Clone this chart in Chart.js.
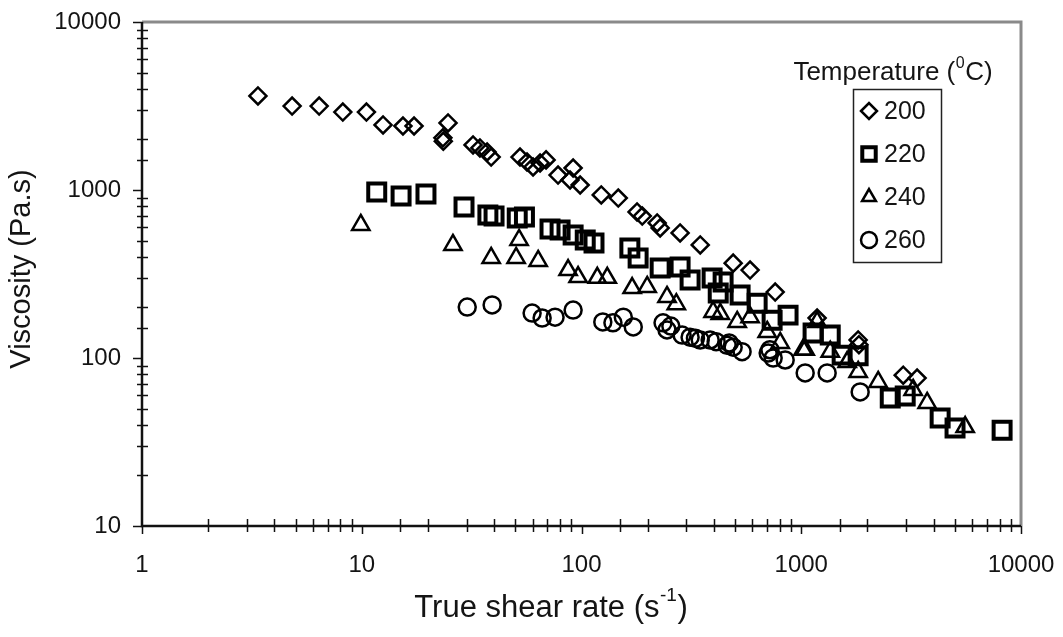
<!DOCTYPE html>
<html>
<head>
<meta charset="utf-8">
<script src="https://cdn.jsdelivr.net/npm/chart.js@4.4.1/dist/chart.umd.min.js"></script>
<style>
  html, body { margin: 0; padding: 0; background: #fff; }
</style>
</head>
<body>
<canvas id="chart" width="1063" height="637"></canvas>
<script>
// valeurs (taux de cisaillement s-1, viscosité Pa.s)
const rate200 = [3.37, 4.82, 6.4, 8.2, 10.5, 12.5, 15.4, 17.3, 24.7, 23.4, 23.5, 32.1, 34.5, 37.2, 38.8, 52.5, 56.5, 60.2, 64.8, 69, 78.2, 91.6, 88.7, 98.6, 123, 147, 179, 189, 221, 228, 281, 347, 490, 585, 761, 1181, 1815, 1830, 2911, 3367];
const visc200 = [3630, 3160, 3160, 2911, 2911, 2438, 2404, 2404, 2506, 2043, 1950, 1854, 1780, 1684, 1570, 1570, 1468, 1371, 1449, 1511, 1228, 1352, 1148, 1071, 934, 896, 740, 700, 637, 595, 555, 471, 367, 334, 247, 173, 128, 120, 79, 76];

const rate220 = [11.7, 15.1, 19.6, 29.2, 37.5, 40, 51, 55, 71.9, 79.9, 91.6, 104, 114, 166, 181, 228, 281, 312, 393, 441, 419, 527, 630, 737, 871, 1132, 1355, 1535, 1815, 2541, 2972, 4286, 5010, 8204];
const visc220 = [973, 921, 946, 792, 710, 700, 681, 690, 586, 578, 540, 504, 484, 452, 394, 343, 348, 291, 299, 283, 244, 237, 212, 168, 180, 141, 137, 104, 103, 57.8, 59.4, 44, 38.3, 37.2];

const rate240 = [9.9, 26, 38.8, 50.4, 52, 63.5, 86.9, 96.5, 118, 131, 170, 199, 245, 270, 397, 428, 511, 585, 700, 802, 1020, 1181, 1355, 1042, 1618, 1815, 2239, 3230, 3740, 5571];
const visc240 = [620, 471, 394, 394, 504, 378, 334, 303, 300, 300, 261, 265, 231, 209, 188, 183, 164, 175, 143, 123, 112, 164, 109, 112, 94.6, 82.6, 72, 64.5, 54, 38.8];

const rate260 = [30.2, 39.2, 59.6, 66.2, 75.8, 91.6, 125, 139, 155, 172, 235, 245, 255, 287, 312, 330, 347, 385, 410, 460, 470, 490, 538, 707, 720, 745, 845, 1042, 1312, 1854];
const visc260 = [201, 207, 185, 173, 175, 193, 164, 162, 175, 153, 162, 147, 155, 137, 133, 131, 128, 128, 125, 119, 123, 116, 109, 107, 112, 100, 97.3, 81.5, 81.5, 62.8];

const temperatures = ['200', '220', '240', '260'];
const xTickLabels = [1, 10, 100, 1000, 10000];
const yTickLabels = [10, 100, 1000, 10000];

const FONT = "'Liberation Sans', Arial, sans-serif";
const INK = '#141414';

function pts(xs, ys) {
  return xs.map((v, i) => ({ x: v, y: ys[i] }));
}

const styles = [
  { pointStyle: 'rectRot', radius: 8.5, borderWidth: 2.5 },
  { pointStyle: 'rect', radius: 12, borderWidth: 4 },
  { pointStyle: 'triangle', radius: 10, borderWidth: 2.5 },
  { pointStyle: 'circle', radius: 8.5, borderWidth: 2.5 }
];
const series = [pts(rate200, visc200), pts(rate220, visc220), pts(rate240, visc240), pts(rate260, visc260)];

const datasets = series.map((d, i) => ({
  label: temperatures[i],
  data: d,
  showLine: false,
  pointStyle: styles[i].pointStyle,
  pointRadius: styles[i].radius,
  pointHoverRadius: styles[i].radius,
  pointBorderWidth: styles[i].borderWidth,
  pointBorderColor: '#000',
  pointBackgroundColor: 'rgba(0,0,0,0)'
}));

const isDecade = v => Math.abs(Math.log10(v) - Math.round(Math.log10(v))) < 1e-9;

// axes, graduations, titres et légende dessinés à la main
const decor = {
  id: 'decor',
  beforeDatasetsDraw(chart) {
    const { ctx, chartArea: a, scales: { x, y } } = chart;
    ctx.save();
    ctx.strokeStyle = '#8a8a8a';
    ctx.lineWidth = 3;
    ctx.beginPath();
    ctx.moveTo(a.left, a.top);
    ctx.lineTo(a.right, a.top);
    ctx.lineTo(a.right, a.bottom);
    ctx.stroke();

    ctx.strokeStyle = '#111';
    ctx.lineWidth = 2.5;
    ctx.beginPath();
    ctx.moveTo(a.left, a.top);
    ctx.lineTo(a.left, a.bottom);
    ctx.lineTo(a.right, a.bottom);
    ctx.stroke();

    ctx.lineWidth = 1.5;
    ctx.beginPath();
    x.ticks.forEach(t => {
      const px = Math.round(x.getPixelForValue(t.value)) + 0.5;
      if (isDecade(t.value)) { ctx.moveTo(px, a.bottom); ctx.lineTo(px, a.bottom + 8); }
      else { ctx.moveTo(px, a.bottom - 7); ctx.lineTo(px, a.bottom + 6); }
    });
    y.ticks.forEach(t => {
      const py = Math.round(y.getPixelForValue(t.value)) + 0.5;
      if (isDecade(t.value)) { ctx.moveTo(a.left - 9, py); ctx.lineTo(a.left, py); }
      else { ctx.moveTo(a.left - 5, py); ctx.lineTo(a.left + 6, py); }
    });
    ctx.stroke();
    ctx.restore();
  },
  afterDraw(chart) {
    const { ctx } = chart;
    ctx.save();
    ctx.fillStyle = INK;

    // titre axe Y
    ctx.font = `29px ${FONT}`;
    ctx.textAlign = 'center';
    ctx.textBaseline = 'middle';
    ctx.save();
    ctx.translate(22, 269);
    ctx.rotate(-Math.PI / 2);
    ctx.fillText('Viscosity (Pa.s)', 0, 0);
    ctx.restore();

    // titre axe X avec exposant
    drawSup(ctx, 'True shear rate (s', '-1', ')', 551, 608, 31);

    // légende
    drawSup(ctx, 'Temperature (', '0', 'C)', 893, 73, 26);
    ctx.strokeStyle = '#222';
    ctx.lineWidth = 1.5;
    ctx.strokeRect(853.5, 89.5, 88, 173);
    ctx.font = `25px ${FONT}`;
    ctx.textAlign = 'left';
    ctx.textBaseline = 'middle';
    temperatures.forEach((t, i) => {
      const cy = 111 + i * 43;
      ctx.fillStyle = 'rgba(0,0,0,0)';
      ctx.strokeStyle = '#000';
      ctx.lineWidth = styles[i].borderWidth;
      const r = i === 1 ? 9.5 : 8;
      Chart.helpers.drawPoint(ctx, { pointStyle: styles[i].pointStyle, radius: r, borderWidth: styles[i].borderWidth, rotation: 0 }, 869, cy);
      ctx.fillStyle = INK;
      ctx.fillText(t, 884, cy + 1);
    });
    ctx.restore();
  }
};

function drawSup(ctx, before, sup, after, cx, cy, size) {
  ctx.save();
  ctx.textBaseline = 'middle';
  ctx.textAlign = 'left';
  ctx.font = `${size}px ${FONT}`;
  const w1 = ctx.measureText(before).width;
  const w3 = ctx.measureText(after).width;
  ctx.font = `${Math.round(size * 0.62)}px ${FONT}`;
  const w2 = ctx.measureText(sup).width + 1;
  const x0 = cx - (w1 + w2 + w3) / 2;
  ctx.font = `${size}px ${FONT}`;
  ctx.fillText(before, x0, cy);
  ctx.fillText(after, x0 + w1 + w2, cy);
  ctx.font = `${Math.round(size * 0.62)}px ${FONT}`;
  ctx.fillText(sup, x0 + w1 + 0.5, cy - size * 0.38);
  ctx.restore();
}

new Chart(document.getElementById('chart'), {
  type: 'scatter',
  data: { datasets },
  options: {
    responsive: false,
    animation: false,
    events: [],
    layout: { padding: { top: 22, right: 42, left: 0, bottom: 0 } },
    plugins: { legend: { display: false }, tooltip: { enabled: false } },
    scales: {
      x: {
        type: 'logarithmic',
        min: 1,
        max: 10000,
        grid: { display: false, drawTicks: false },
        border: { display: false },
        ticks: {
          autoSkip: false,
          maxRotation: 0,
          padding: 25,
          color: INK,
          font: { family: FONT, size: 24 },
          callback: v => xTickLabels.includes(v) ? String(v) : ''
        },
        afterFit: s => { s.height = 111; s.paddingLeft = 0; s.paddingRight = 0; }
      },
      y: {
        type: 'logarithmic',
        min: 10,
        max: 10000,
        grid: { display: false, drawTicks: false },
        border: { display: false },
        ticks: {
          autoSkip: false,
          padding: 21,
          color: INK,
          font: { family: FONT, size: 24 },
          callback: v => yTickLabels.includes(v) ? String(v) : ''
        },
        afterFit: s => { s.width = 142; s.paddingTop = 0; s.paddingBottom = 0; }
      }
    }
  },
  plugins: [decor]
});
</script>
</body>
</html>
